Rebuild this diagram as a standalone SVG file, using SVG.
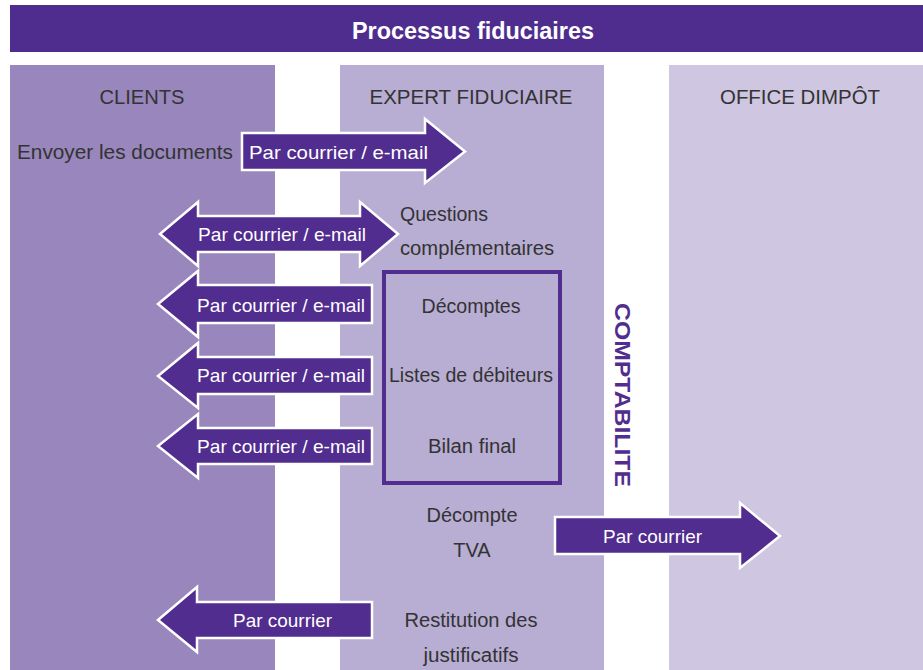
<svg xmlns="http://www.w3.org/2000/svg" width="923" height="670" viewBox="0 0 923 670">
<style>
.col-title{font-family:"Liberation Sans",Arial,sans-serif;font-size:21px;fill:#333;text-anchor:middle}
.lbl{font-family:"Liberation Sans",Arial,sans-serif;font-size:20px;fill:#333}
.c{text-anchor:middle}
.arr{fill:#512d8f;stroke:#fff;stroke-width:2.5;stroke-linejoin:miter}
.at{font-family:"Liberation Sans",Arial,sans-serif;font-size:19px;fill:#fff}
</style>
<rect width="923" height="670" fill="#fff"/>
<g id="header">
<rect x="10" y="5" width="913" height="47" fill="#4f2d8e"/>
<text x="473" y="39" font-family="'Liberation Sans',Arial,sans-serif" font-size="23" font-weight="bold" fill="#fff" text-anchor="middle" textLength="242" lengthAdjust="spacingAndGlyphs">Processus fiduciaires</text>
</g>
<g id="col-clients">
<rect x="10" y="65" width="265" height="605" fill="#9886bc"/>
<text class="col-title" x="142" y="104" textLength="85" lengthAdjust="spacingAndGlyphs">CLIENTS</text>
<text class="lbl" x="17" y="159" textLength="216" lengthAdjust="spacingAndGlyphs">Envoyer les documents</text>
</g>
<g id="col-expert">
<rect x="340" y="65" width="264" height="605" fill="#b8add3"/>
<text class="col-title" x="471" y="104" textLength="203" lengthAdjust="spacingAndGlyphs">EXPERT FIDUCIAIRE</text>
<text class="lbl" x="400" y="221" textLength="88" lengthAdjust="spacingAndGlyphs">Questions</text>
<text class="lbl" x="400" y="255" textLength="154" lengthAdjust="spacingAndGlyphs">complémentaires</text>
<text class="lbl c" x="472" y="522" textLength="91" lengthAdjust="spacingAndGlyphs">Décompte</text>
<text class="lbl c" x="472" y="557">TVA</text>
<text class="lbl c" x="471" y="627" textLength="133" lengthAdjust="spacingAndGlyphs">Restitution des</text>
<text class="lbl c" x="471" y="662" textLength="95" lengthAdjust="spacingAndGlyphs">justificatifs</text>
</g>
<g id="col-office">
<rect x="669" y="65" width="254" height="605" fill="#cfc6e1"/>
<text class="col-title" x="800" y="104" textLength="160" lengthAdjust="spacingAndGlyphs">OFFICE DIMPÔT</text>
</g>
<g id="box-comptes">
<rect x="384" y="272" width="176" height="211" fill="none" stroke="#512d8f" stroke-width="4"/>
<text class="lbl c" x="471" y="313" textLength="99" lengthAdjust="spacingAndGlyphs">Décomptes</text>
<text class="lbl c" x="471" y="382" textLength="164" lengthAdjust="spacingAndGlyphs">Listes de débiteurs</text>
<text class="lbl c" x="472" y="453" textLength="88" lengthAdjust="spacingAndGlyphs">Bilan final</text>
</g>
<g id="comptabilite">
<text transform="translate(615,395) rotate(90)" x="0" y="0" font-family="'Liberation Sans',Arial,sans-serif" font-size="22" font-weight="bold" fill="#512d8f" text-anchor="middle" textLength="184" lengthAdjust="spacingAndGlyphs">COMPTABILITE</text>
</g>
<g id="connectors">
<g id="arrow-envoi">
<path class="arr" d="M242,133 H425 V119 L465,151.5 L425,183 V170 H242 Z"/>
<text class="at" x="249" y="159" textLength="179" lengthAdjust="spacingAndGlyphs">Par courrier / e-mail</text>
</g>
<g id="arrow-questions">
<path class="arr" d="M160,234 L198,202 V216 H360 V202 L398,234 L360,266 V252 H198 V266 Z"/>
<text class="at" x="198" y="241" textLength="168" lengthAdjust="spacingAndGlyphs">Par courrier / e-mail</text>
</g>
<g id="arrow-decomptes">
<path class="arr" d="M158,304 L198,271 V285 H372 V323 H198 V337 Z"/>
<text class="at" x="197" y="312" textLength="168" lengthAdjust="spacingAndGlyphs">Par courrier / e-mail</text>
</g>
<g id="arrow-listes">
<path class="arr" d="M158,376 L198,343 V357 H372 V394 H198 V408 Z"/>
<text class="at" x="197" y="382" textLength="168" lengthAdjust="spacingAndGlyphs">Par courrier / e-mail</text>
</g>
<g id="arrow-bilan">
<path class="arr" d="M158,446 L198,414 V428 H372 V464 H198 V478 Z"/>
<text class="at" x="197" y="453" textLength="168" lengthAdjust="spacingAndGlyphs">Par courrier / e-mail</text>
</g>
<g id="arrow-tva">
<path class="arr" d="M555,517 H740 V503 L780,536 L740,568 V554 H555 Z"/>
<text class="at" x="603" y="543" textLength="99" lengthAdjust="spacingAndGlyphs">Par courrier</text>
</g>
<g id="arrow-restitution">
<path class="arr" d="M158,620 L197,587 V602 H372 V638 H197 V652 Z"/>
<text class="at" x="233" y="627" textLength="99" lengthAdjust="spacingAndGlyphs">Par courrier</text>
</g>
</g>
</svg>
